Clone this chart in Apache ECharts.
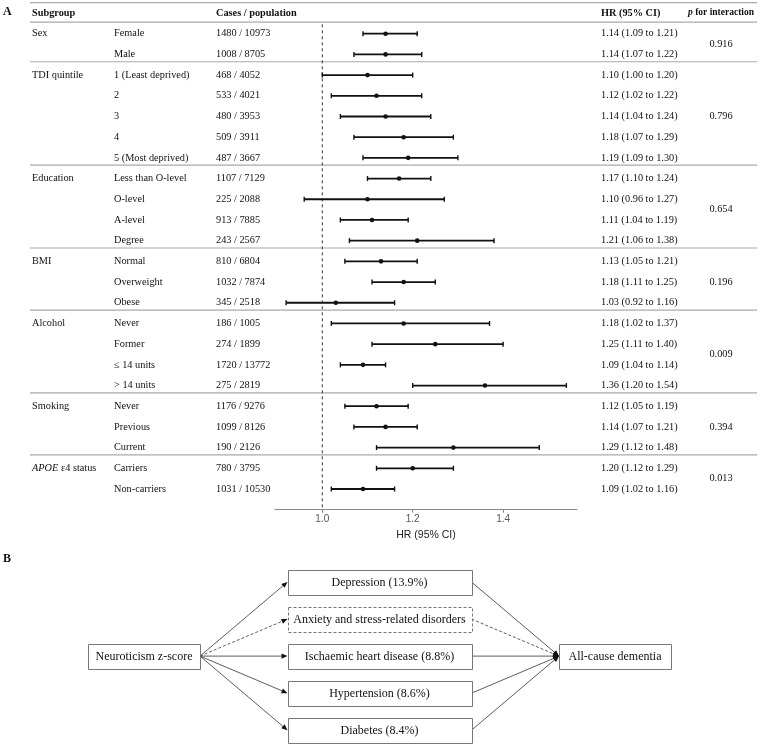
<!DOCTYPE html>
<html>
<head>
<meta charset="utf-8">
<script src="https://cdn.jsdelivr.net/npm/echarts@6/dist/echarts.min.js"></script>
<style>html,body{margin:0;padding:0;background:#fff;}</style>
</head>
<body>
<div id="main" style="width:760px;height:744px;"></div>
<script type="text/javascript">
// ---- panel A data ----
var groups = ['Sex', 'TDI quintile', 'Education', 'BMI', 'Alcohol', 'Smoking', 'APOE ε4 status'];
var groupSizes = [2, 5, 4, 3, 4, 3, 2];
var pInteraction = ['0.916', '0.796', '0.654', '0.196', '0.009', '0.394', '0.013'];
var levels = ['Female', 'Male',
    '1 (Least deprived)', '2', '3', '4', '5 (Most deprived)',
    'Less than O-level', 'O-level', 'A-level', 'Degree',
    'Normal', 'Overweight', 'Obese',
    'Never', 'Former', '≤ 14 units', '> 14 units',
    'Never', 'Previous', 'Current',
    'Carriers', 'Non-carriers'];
var cases = [1480, 1008, 468, 533, 480, 509, 487, 1107, 225, 913, 243, 810, 1032, 345, 186, 274, 1720, 275, 1176, 1099, 190, 780, 1031];
var population = [10973, 8705, 4052, 4021, 3953, 3911, 3667, 7129, 2088, 7885, 2567, 6804, 7874, 2518, 1005, 1899, 13772, 2819, 9276, 8126, 2126, 3795, 10530];
var hr = [1.14, 1.14, 1.10, 1.12, 1.14, 1.18, 1.19, 1.17, 1.10, 1.11, 1.21, 1.13, 1.18, 1.03, 1.18, 1.25, 1.09, 1.36, 1.12, 1.14, 1.29, 1.20, 1.09];
var lower = [1.09, 1.07, 1.00, 1.02, 1.04, 1.07, 1.09, 1.10, 0.96, 1.04, 1.06, 1.05, 1.11, 0.92, 1.02, 1.11, 1.04, 1.20, 1.05, 1.07, 1.12, 1.12, 1.02];
var upper = [1.21, 1.22, 1.20, 1.22, 1.24, 1.29, 1.30, 1.24, 1.27, 1.19, 1.38, 1.21, 1.25, 1.16, 1.37, 1.40, 1.14, 1.54, 1.19, 1.21, 1.48, 1.29, 1.16];
var xTicks = [1.0, 1.2, 1.4];

// ---- panel B data ----
var exposure = 'Neuroticism z-score';
var outcome = 'All-cause dementia';
var mediators = ['Depression (13.9%)', 'Anxiety and stress-related disorders', 'Ischaemic heart disease (8.8%)', 'Hypertension (8.6%)', 'Diabetes (8.4%)'];
var mediatorDashed = [false, true, false, false, false];

var serif = '"Liberation Serif", "Times New Roman", serif';
var sans = '"Liberation Sans", Arial, sans-serif';
var fs = 10.3;

var groupStart = [];
var acc = 0;
groupSizes.forEach(function (n) { groupStart.push(acc); acc += n; });
var nRows = acc;

function fmt(v) { return v.toFixed(2); }

function txt(x, y, s, opt) {
    opt = opt || {};
    var style = {
        x: x, y: y, text: s,
        font: (opt.italic ? 'italic ' : '') + (opt.bold ? 'bold ' : '') + (opt.size || fs) + 'px ' + serif,
        fill: '#111', align: opt.align || 'left', verticalAlign: 'middle'
    };
    if (opt.rich) style.rich = opt.rich;
    return { type: 'text', style: style };
}

var colX = { group: 32, level: 114, cases: 216, hr: 601, p: 721 };
var lineL = 30, lineR = 757;

// forest bars
function renderForest(params, api) {
    var i = api.value(0);
    var lo = api.coord([api.value(1), i]);
    var hi = api.coord([api.value(2), i]);
    var pt = api.coord([api.value(3), i]);
    var c = '#111';
    return {
        type: 'group', children: [
            { type: 'line', shape: { x1: lo[0], y1: lo[1], x2: hi[0], y2: hi[1] }, style: { stroke: c, lineWidth: 1.8 } },
            { type: 'line', shape: { x1: lo[0], y1: lo[1] - 2.5, x2: lo[0], y2: lo[1] + 2.5 }, style: { stroke: c, lineWidth: 1.4 } },
            { type: 'line', shape: { x1: hi[0], y1: hi[1] - 2.5, x2: hi[0], y2: hi[1] + 2.5 }, style: { stroke: c, lineWidth: 1.4 } },
            { type: 'circle', shape: { cx: pt[0], cy: pt[1], r: 2.3 }, style: { fill: c } }
        ]
    };
}

// table text per row
function renderTable(params, api) {
    var i = api.value(1);
    var y = api.coord([1, i])[1];
    var kids = [];
    var g = groupStart.indexOf(i);
    if (g >= 0) {
        var name = groups[g];
        if (name.indexOf('APOE') === 0) {
            kids.push(txt(colX.group, y, '{i|APOE}' + name.slice(4), {
                rich: { i: { fontStyle: 'italic', fontFamily: serif, fontSize: fs, fill: '#111' } }
            }));
        } else {
            kids.push(txt(colX.group, y, name));
        }
        var mid = groupStart[g] + (groupSizes[g] - 1) / 2;
        kids.push(txt(colX.p, api.coord([1, mid])[1], pInteraction[g], { align: 'center' }));
    }
    kids.push(txt(colX.level, y, levels[i]));
    kids.push(txt(colX.cases, y, cases[i] + ' / ' + population[i]));
    kids.push(txt(colX.hr, y, fmt(hr[i]) + ' (' + fmt(lower[i]) + ' to ' + fmt(upper[i]) + ')'));
    return { type: 'group', children: kids };
}

// header, rules, reference line
function renderFrame(params, api) {
    var hy = api.coord([1, -1])[1];
    var kids = [];
    var rule = { stroke: '#aaaaaa', lineWidth: 1.2 };
    var topY = api.coord([1, -1.5])[1];
    var headY = api.coord([1, -0.5])[1] - 1.3;
    kids.push({ type: 'line', shape: { x1: lineL, y1: topY, x2: lineR, y2: topY }, style: rule });
    kids.push({ type: 'line', shape: { x1: lineL, y1: headY, x2: lineR, y2: headY }, style: rule });
    for (var g = 1; g < groupStart.length; g++) {
        var ly = api.coord([1, groupStart[g] - 0.5])[1] - 3;
        kids.push({ type: 'line', shape: { x1: lineL, y1: ly, x2: lineR, y2: ly }, style: rule });
    }
    kids.push(txt(colX.group, hy, 'Subgroup', { bold: true }));
    kids.push(txt(colX.cases, hy, 'Cases / population', { bold: true }));
    kids.push(txt(colX.hr, hy, 'HR (95% CI)', { bold: true }));
    kids.push(txt(colX.p, hy, '{i|p} for interaction', {
        bold: true, align: 'center', size: 9.5,
        rich: { i: { fontStyle: 'italic', fontWeight: 'bold', fontFamily: serif, fontSize: 9.5, fill: '#111' } }
    }));
    var r1 = api.coord([1, -0.5]);
    var r2 = api.coord([1, nRows]);
    kids.push({ type: 'line', shape: { x1: r1[0], y1: r1[1] + 1, x2: r2[0], y2: r2[1] }, style: { stroke: '#333', lineWidth: 1, lineDash: [3, 3] } });
    return { type: 'group', children: kids };
}

// panel B nodes: [col, row, label, kind, dashed]
var nodes = [[0, 2, exposure, 'side', 0], [2, 2, outcome, 'side', 0]];
mediators.forEach(function (m, k) { nodes.push([1, k, m, 'mid', mediatorDashed[k] ? 1 : 0]); });
var edges = [];
mediators.forEach(function (m, k) {
    edges.push([0, 2, 1, k, mediatorDashed[k] ? 1 : 0]);
    edges.push([1, k, 2, 2, mediatorDashed[k] ? 1 : 0]);
});
var boxW = { side: 112, mid: 184 };
var boxH = 25;

function halfW(col) { return (col === 1 ? boxW.mid : boxW.side) / 2; }

function renderEdge(params, api) {
    var sc = api.value(0), tc = api.value(2);
    var s = api.coord([sc, api.value(1)]);
    var t = api.coord([tc, api.value(3)]);
    var x1 = s[0] + halfW(sc), y1 = s[1];
    var x2 = t[0] - halfW(tc), y2 = t[1];
    var dx = x2 - x1, dy = y2 - y1, len = Math.sqrt(dx * dx + dy * dy);
    var ux = dx / len, uy = dy / len;
    var al = 6, aw = 2.6;
    var bx = x2 - ux * al, by = y2 - uy * al;
    var dashed = api.value(4) === 1;
    return {
        type: 'group', children: [
            { type: 'line', shape: { x1: x1, y1: y1, x2: bx, y2: by }, style: { stroke: '#333', lineWidth: 0.8, lineDash: dashed ? [3, 2] : null } },
            { type: 'polygon', shape: { points: [[x2, y2], [bx - uy * aw, by + ux * aw], [bx + uy * aw, by - ux * aw]] }, style: { fill: '#111' } }
        ]
    };
}

function renderBox(params, api) {
    var col = api.value(0);
    var c = api.coord([col, api.value(1)]);
    var w = col === 1 ? boxW.mid : boxW.side;
    var n = nodes[params.dataIndex];
    var x = Math.round(c[0] - w / 2) + 0.5, y = Math.round(c[1] - boxH / 2) + 0.5;
    return {
        type: 'group', children: [
            { type: 'rect', shape: { x: x, y: y, width: w, height: boxH },
              style: { fill: '#fff', stroke: '#777', lineWidth: 1, lineDash: n[4] ? [3, 2] : null } },
            { type: 'text', style: { x: c[0], y: c[1] + 1, text: n[2], font: '12px ' + serif, fill: '#111', align: 'center', verticalAlign: 'middle' } }
        ]
    };
}

var colPx = 235.5, rowPx = 37.05;

var myChart = echarts.init(document.getElementById('main'));
myChart.setOption({
    animation: false,
    backgroundColor: '#fff',
    grid: [
        { left: 275, right: 183, top: 23.35, bottom: 234.3, outerBoundsMode: 'none', containLabel: false },
        { left: 144 - 0.5 * colPx, top: 582 - 0.5 * rowPx, width: 3 * colPx, height: 5 * rowPx, outerBoundsMode: 'none', containLabel: false }
    ],
    xAxis: [
        {
            gridIndex: 0, type: 'value', min: 0.8954, max: 1.5635, position: 'bottom',
            axisLine: { show: true, onZero: false, lineStyle: { color: '#888', width: 1 } },
            axisTick: { show: true, length: 3, customValues: xTicks, lineStyle: { color: '#888' } },
            axisLabel: { customValues: xTicks, formatter: function (v) { return v.toFixed(1); }, color: '#555', fontFamily: sans, fontSize: 10, margin: 5 },
            splitLine: { show: false },
            name: 'HR (95% CI)', nameLocation: 'middle', nameGap: 19,
            nameTextStyle: { color: '#222', fontFamily: sans, fontSize: 10.5 }
        },
        { gridIndex: 1, type: 'value', min: -0.5, max: 2.5, show: false }
    ],
    yAxis: [
        { gridIndex: 0, type: 'value', inverse: true, min: -0.5, max: nRows, show: false },
        { gridIndex: 1, type: 'value', inverse: true, min: -0.5, max: 4.5, show: false }
    ],
    graphic: [
        { type: 'text', left: 3, top: 6, style: { text: 'A', font: 'bold 12px ' + serif, fill: '#111' } },
        { type: 'text', left: 3, top: 553, style: { text: 'B', font: 'bold 12px ' + serif, fill: '#111' } }
    ],
    series: [
        {
            type: 'custom', name: 'frame', xAxisIndex: 0, yAxisIndex: 0, silent: true, clip: false,
            data: [[1, 0]], renderItem: renderFrame, z: 1
        },
        {
            type: 'custom', name: 'table', xAxisIndex: 0, yAxisIndex: 0, silent: true, clip: false,
            data: levels.map(function (l, i) { return [1, i]; }), renderItem: renderTable, z: 2
        },
        {
            type: 'custom', name: 'HR', xAxisIndex: 0, yAxisIndex: 0, silent: true, clip: false,
            encode: { x: [1, 2, 3], y: 0 },
            data: hr.map(function (v, i) { return [i, lower[i], upper[i], v]; }),
            renderItem: renderForest, z: 3
        },
        {
            type: 'custom', name: 'paths', xAxisIndex: 1, yAxisIndex: 1, silent: true, clip: false,
            encode: { x: [0, 2], y: [1, 3] },
            data: edges, renderItem: renderEdge, z: 2
        },
        {
            type: 'custom', name: 'boxes', xAxisIndex: 1, yAxisIndex: 1, silent: true, clip: false, z: 3,
            encode: { x: 0, y: 1 },
            data: nodes.map(function (n) { return [n[0], n[1]]; }),
            renderItem: renderBox
        }
    ]
});
</script>
</body>
</html>
